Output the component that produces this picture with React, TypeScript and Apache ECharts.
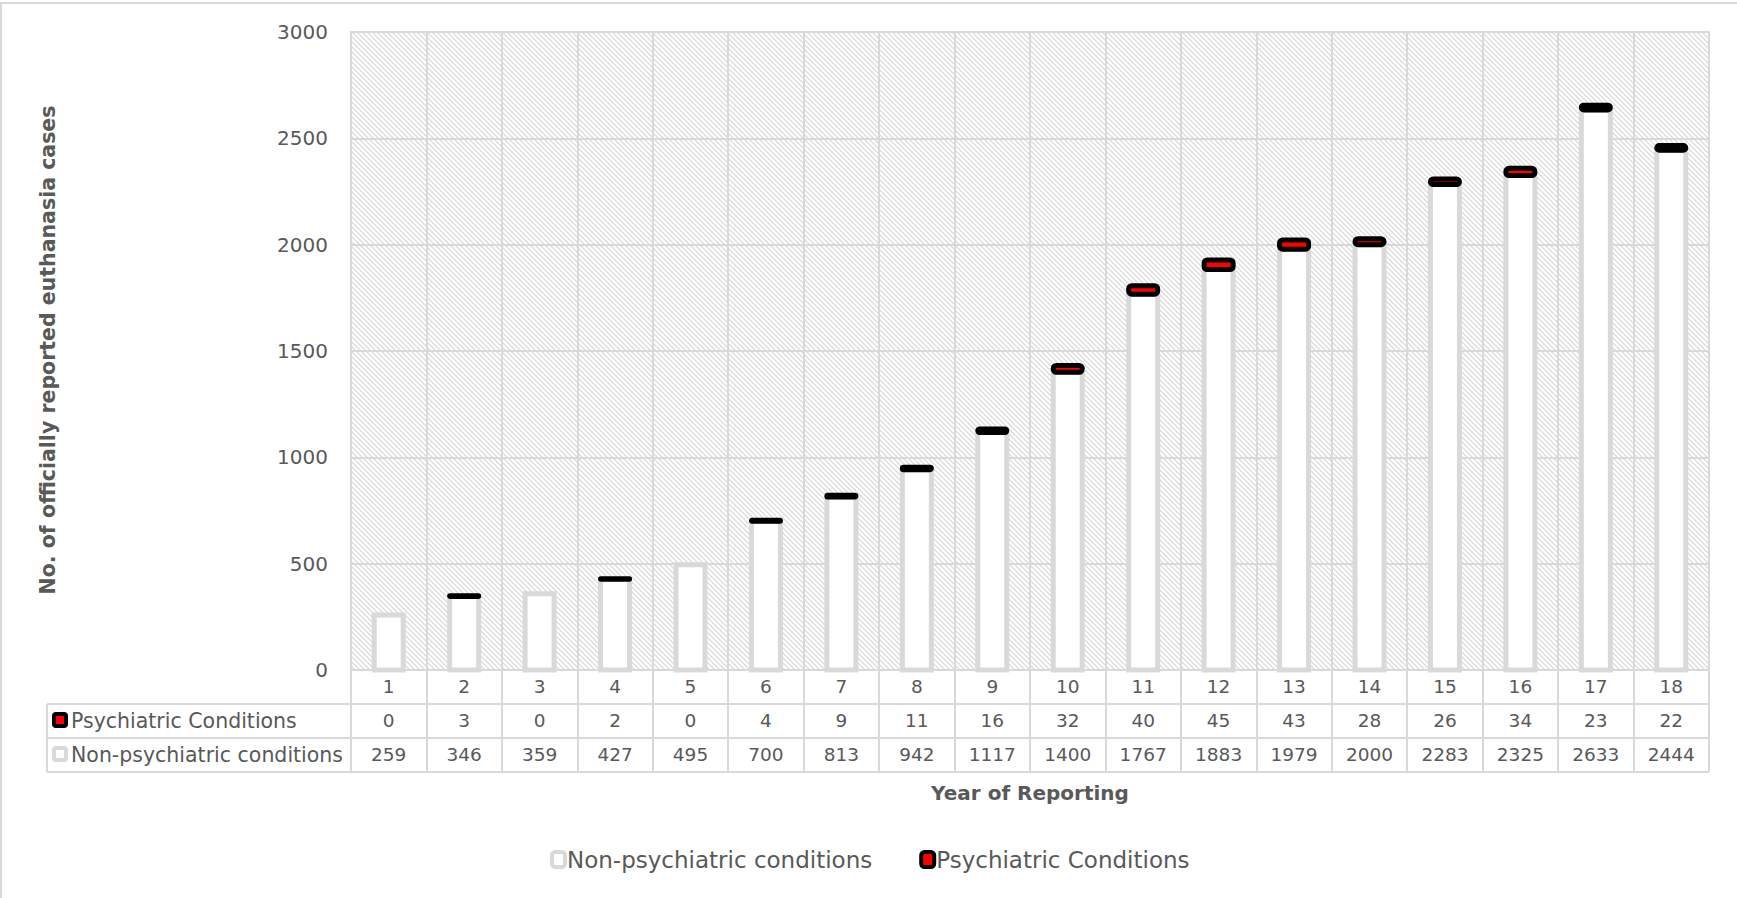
import React, { useEffect, useRef } from 'react';
import * as echarts from 'echarts';

const categories = ['1', '2', '3', '4', '5', '6', '7', '8', '9', '10', '11', '12', '13', '14', '15', '16', '17', '18'];
const psychiatric = [0, 3, 0, 2, 0, 4, 9, 11, 16, 32, 40, 45, 43, 28, 26, 34, 23, 22];
const nonPsychiatric = [259, 346, 359, 427, 495, 700, 813, 942, 1117, 1400, 1767, 1883, 1979, 2000, 2283, 2325, 2633, 2444];
const seriesNames = ['Non-psychiatric conditions', 'Psychiatric Conditions'];
const yAxisTitle = 'No. of officially reported euthanasia cases';
const xAxisTitle = 'Year of Reporting';
const yMin = 0;
const yMax = 3000;
const yInterval = 500;

const FONT = '"DejaVu Sans", sans-serif';
const TEXT = '#595959';
const LINE = '#d9d9d9';

function makePattern(): string {
  const c = document.createElement('canvas');
  const p = 5;
  c.width = p;
  c.height = p;
  const ctx = c.getContext('2d')!;
  ctx.fillStyle = '#ffffff';
  ctx.fillRect(0, 0, p, p);
  ctx.strokeStyle = '#dcdcdc';
  ctx.lineWidth = 1.3;
  for (const x0 of [-p, 0, p]) {
    ctx.beginPath();
    ctx.moveTo(x0 - 1, -1);
    ctx.lineTo(x0 + p + 1, p + 1);
    ctx.stroke();
  }
  return c.toDataURL();
}

export default function App() {
  const ref = useRef<HTMLDivElement>(null);
  useEffect(() => {
    if (!ref.current) return;
    const chart = echarts.init(ref.current, null, { renderer: 'svg' });
    const L = 351, R = 1709, T = 32, B = 670;
    const rows = [704, 738, 772];
    const BAR_W = 29;
    const pattern = makePattern();
    const rowAxis = (offset: number, values: number[]) => ({
      type: 'category',
      gridIndex: 0,
      position: 'bottom',
      offset,
      data: categories,
      axisLine: { show: false },
      axisTick: { show: false },
      splitLine: { show: false },
      axisLabel: {
        margin: 7,
        fontSize: 18.5,
        fontFamily: FONT,
        color: TEXT,
        formatter: (_v: string, i: number) => String(values[i]),
      },
    });
    chart.setOption({
      animation: false,
      backgroundColor: '#ffffff',
      textStyle: { fontFamily: FONT },
      grid: {
        left: L,
        right: 1737 - R,
        top: T,
        bottom: 898 - B,
        show: true,
        backgroundColor: { image: pattern, repeat: 'repeat' },
        borderColor: LINE,
        borderWidth: 2,
      },
      legend: {
        data: seriesNames,
        left: 545,
        top: 843,
        icon: 'roundRect',
        itemWidth: 13,
        itemHeight: 15,
        itemGap: 47,
        itemStyle: { borderWidth: 4 },
        textStyle: { fontSize: 23, color: TEXT, fontFamily: FONT, padding: [0, 0, 0, -3] },
      },
      xAxis: [
        {
          type: 'category',
          data: categories,
          axisLine: { show: true, lineStyle: { color: LINE, width: 2 } },
          axisTick: { show: true, length: 102, lineStyle: { color: LINE, width: 2 } },
          splitLine: { show: true, lineStyle: { color: LINE, width: 2 } },
          axisLabel: { margin: 7, fontSize: 18.5, fontFamily: FONT, color: TEXT },
        },
        rowAxis(34, psychiatric),
        rowAxis(68, nonPsychiatric),
      ],
      yAxis: {
        type: 'value',
        min: yMin,
        max: yMax,
        interval: yInterval,
        axisLine: { show: false },
        axisTick: { show: false },
        splitLine: { show: true, lineStyle: { color: LINE, width: 2 } },
        axisLabel: { margin: 23, fontSize: 20, fontFamily: FONT, color: TEXT, formatter: (v: number) => String(v) },
      },
      series: [
        {
          name: seriesNames[0],
          type: 'custom',
          data: categories.map((_c, i) => [i, nonPsychiatric[i]]),
          encode: { x: 0, y: 1 },
          itemStyle: { color: '#ffffff', borderColor: LINE, borderWidth: 5 },
          renderItem: (_p: any, api: any) => {
            const i = api.value(0);
            const v = api.value(1);
            if (!v) return null;
            const top = api.coord([i, v]);
            const bot = api.coord([i, 0]);
            return {
              type: 'rect',
              shape: { x: top[0] - BAR_W / 2, y: top[1], width: BAR_W, height: bot[1] - top[1] },
              style: { fill: '#ffffff', stroke: LINE, lineWidth: 5 },
            };
          },
        },
        {
          name: seriesNames[1],
          type: 'custom',
          data: categories.map((_c, i) => [i, nonPsychiatric[i], psychiatric[i]]),
          encode: { x: 0, y: 1 },
          itemStyle: { color: '#ff0000', borderColor: '#000000', borderWidth: 5 },
          renderItem: (_p: any, api: any) => {
            const i = api.value(0);
            const base = api.value(1);
            const v = api.value(2);
            if (!v) return null;
            const top = api.coord([i, base + v]);
            const bot = api.coord([i, base]);
            return {
              type: 'rect',
              shape: { x: top[0] - BAR_W / 2, y: top[1], width: BAR_W, height: bot[1] - top[1], r: 3 },
              style: { fill: '#ff0000', stroke: '#000000', lineWidth: 5, lineJoin: 'round' },
            };
          },
        },
      ],
      graphic: [
        { type: 'rect', silent: true, z: -10, shape: { x: 1, y: 3, width: 1800, height: 1000 }, style: { fill: 'none', stroke: LINE, lineWidth: 2 } },
        ...rows.map((y) => ({ type: 'line', silent: true, shape: { x1: 47, y1: y, x2: R, y2: y }, style: { stroke: LINE, lineWidth: 2 } })),
        { type: 'line', silent: true, shape: { x1: 47, y1: rows[0], x2: 47, y2: rows[2] }, style: { stroke: LINE, lineWidth: 2 } },
        { type: 'rect', silent: true, shape: { x: 54, y: 714, width: 12, height: 12, r: 2 }, style: { fill: '#ff0000', stroke: '#000000', lineWidth: 4 } },
        { type: 'rect', silent: true, shape: { x: 54, y: 748, width: 12, height: 12, r: 2 }, style: { fill: '#ffffff', stroke: LINE, lineWidth: 4 } },
        { type: 'text', silent: true, x: 71, y: 721, style: { text: seriesNames[1], fontSize: 20.5, fontFamily: FONT, fill: TEXT, verticalAlign: 'middle' } },
        { type: 'text', silent: true, x: 71, y: 755, style: { text: seriesNames[0], fontSize: 20.5, fontFamily: FONT, fill: TEXT, verticalAlign: 'middle' } },
        { type: 'text', silent: true, x: 48, y: 350, rotation: Math.PI / 2, style: { text: yAxisTitle, fontSize: 20.5, fontWeight: 'bold', fontFamily: FONT, fill: TEXT, align: 'center', verticalAlign: 'middle' } },
        { type: 'text', silent: true, x: (L + R) / 2, y: 793, style: { text: xAxisTitle, fontSize: 20, fontWeight: 'bold', fontFamily: FONT, fill: TEXT, align: 'center', verticalAlign: 'middle' } },
      ],
    });
    return () => chart.dispose();
  }, []);
  return <div ref={ref} style={{ position: 'fixed', left: 0, top: 0, width: 1737, height: 898 }} />;
}
